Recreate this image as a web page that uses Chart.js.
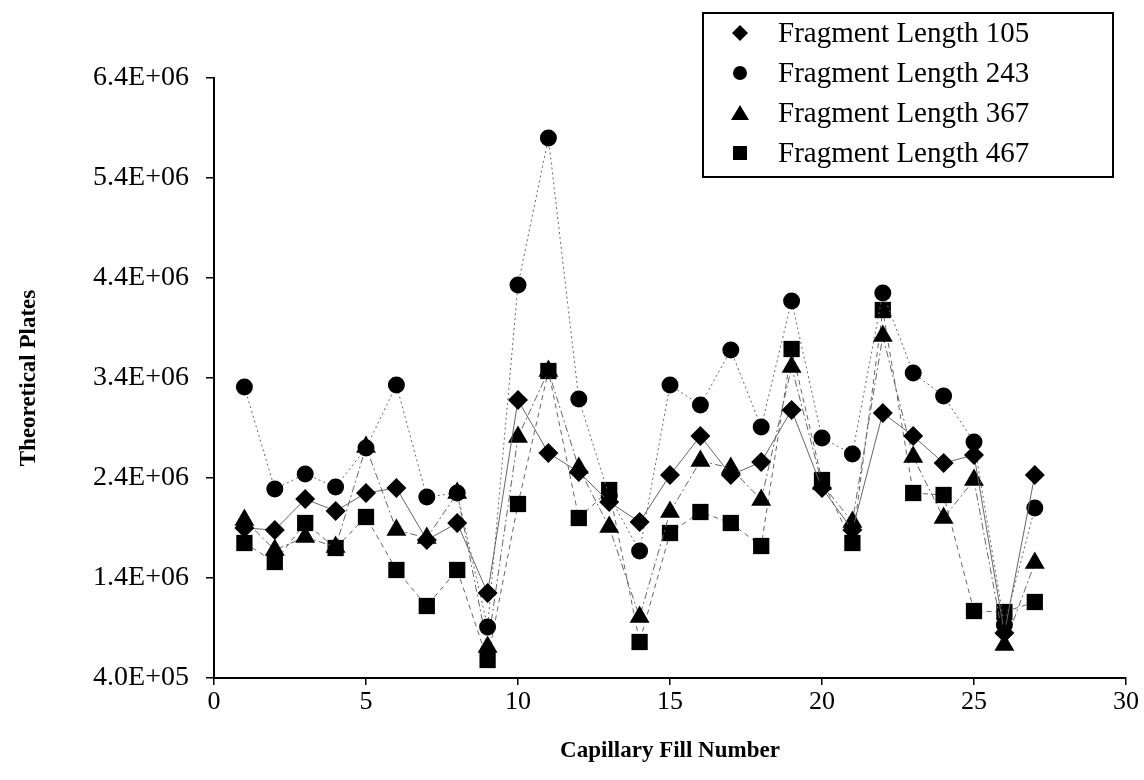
<!DOCTYPE html>
<html>
<head>
<meta charset="utf-8">
<script src="https://cdn.jsdelivr.net/npm/chart.js@4.4.1/dist/chart.umd.min.js"></script>
<style>
  body { margin: 0; background: #fff; }
  canvas { display: block; }
</style>
</head>
<body>
<canvas id="plates" width="1144" height="780"></canvas>
<script>
// Capillary fill number vs theoretical plates, four fragment lengths
const fillNumbers = [1, 2, 3, 4, 5, 6, 7, 8, 9, 10, 11, 12, 13, 14, 15, 16, 17, 18, 19, 20, 21, 22, 23, 24, 25, 26, 27];

const frag105 = [1.90e6, 1.88e6, 2.19e6, 2.07e6, 2.25e6, 2.30e6, 1.78e6, 1.95e6, 1.25e6, 3.18e6, 2.65e6, 2.46e6, 2.16e6, 1.96e6,
                 2.43e6, 2.82e6, 2.43e6, 2.56e6, 3.08e6, 2.30e6, 1.88e6, 3.05e6, 2.82e6, 2.55e6, 2.63e6, 0.85e6, 2.43e6];
const frag243 = [3.31e6, 2.29e6, 2.44e6, 2.31e6, 2.70e6, 3.33e6, 2.21e6, 2.25e6, 0.91e6, 4.33e6, 5.80e6, 3.19e6, 2.22e6, 1.67e6,
                 3.33e6, 3.13e6, 3.68e6, 2.91e6, 4.17e6, 2.80e6, 2.64e6, 4.25e6, 3.45e6, 3.22e6, 2.76e6, 0.93e6, 2.10e6];
const frag367 = [1.98e6, 1.68e6, 1.81e6, 1.71e6, 2.71e6, 1.88e6, 1.80e6, 2.25e6, 0.71e6, 2.81e6, 3.47e6, 2.50e6, 1.91e6, 1.01e6,
                 2.06e6, 2.57e6, 2.50e6, 2.18e6, 3.51e6, 2.34e6, 1.96e6, 3.82e6, 2.61e6, 2.00e6, 2.38e6, 0.73e6, 1.55e6];
const frag467 = [1.75e6, 1.56e6, 1.95e6, 1.70e6, 2.01e6, 1.48e6, 1.12e6, 1.48e6, 0.58e6, 2.14e6, 3.47e6, 2.00e6, 2.28e6, 0.76e6,
                 1.85e6, 2.06e6, 1.95e6, 1.72e6, 3.69e6, 2.38e6, 1.75e6, 4.08e6, 2.25e6, 2.23e6, 1.07e6, 1.06e6, 1.16e6];

const seriesLabels = ['Fragment Length 105', 'Fragment Length 243', 'Fragment Length 367', 'Fragment Length 467'];
const seriesValues = [frag105, frag243, frag367, frag467];
const markerStyles = ['rectRot', 'circle', 'triangle', 'rect'];
const markerSizes = [10, 8.5, 11.5, 11.5];
const lineDashes = [[], [2, 3], [7, 3, 2, 3], [5, 4]];

const serif = '"Liberation Serif", "Times New Roman", serif';

function sciLabel(v) {
    const e = Math.floor(Math.log10(v) + 1e-9);
    const m = v / Math.pow(10, e);
    return m.toFixed(1) + 'E+' + String(e).padStart(2, '0');
}

// legend with a box, drawn by hand
const boxedLegend = {
    id: 'boxedLegend',
    afterDraw(chart) {
        const c = chart.ctx;
        c.save();
        c.strokeStyle = '#000';
        c.lineWidth = 2;
        c.strokeRect(703, 13, 410, 164);
        c.fillStyle = '#000';
        c.font = '29px ' + serif;
        c.textBaseline = 'middle';
        seriesLabels.forEach((label, i) => {
            const y = 33 + i * 40;
            const x = 740;
            c.beginPath();
            if (markerStyles[i] === 'rectRot') {
                c.moveTo(x, y - 8); c.lineTo(x + 8, y); c.lineTo(x, y + 8); c.lineTo(x - 8, y);
            } else if (markerStyles[i] === 'circle') {
                c.arc(x, y, 7, 0, Math.PI * 2);
            } else if (markerStyles[i] === 'triangle') {
                c.moveTo(x, y - 8); c.lineTo(x + 9, y + 7); c.lineTo(x - 9, y + 7);
            } else {
                c.rect(x - 7, y - 7, 14, 14);
            }
            c.closePath();
            c.fill();
            c.fillText(label, 778, y + 1);
        });
        c.restore();
    }
};

const datasets = seriesLabels.map((label, i) => ({
    label: label,
    data: fillNumbers.map((x, j) => ({ x: x, y: seriesValues[i][j] })),
    showLine: true,
    borderColor: '#666',
    borderWidth: 1,
    borderDash: lineDashes[i],
    pointStyle: markerStyles[i],
    pointRadius: markerSizes[i],
    pointBackgroundColor: '#000',
    pointBorderColor: '#000',
    pointBorderWidth: 0
}));

const xTickFont = { family: serif, size: 26 };
const yTickFont = { family: serif, size: 28 };
const titleFont = { family: serif, size: 23, weight: 'bold' };

new Chart(document.getElementById('plates'), {
    type: 'scatter',
    data: { datasets: datasets },
    options: {
        responsive: false,
        animation: false,
        layout: { padding: { top: 78, right: 18, left: 0, bottom: 0 } },
        plugins: {
            legend: { display: false },
            tooltip: { enabled: false }
        },
        scales: {
            x: {
                type: 'linear',
                min: 0,
                max: 30,
                ticks: { stepSize: 5, font: xTickFont, color: '#000', padding: 2 },
                grid: { drawOnChartArea: false, tickLength: 7, color: '#000', lineWidth: 1.5 },
                border: { color: '#000', width: 2 },
                title: { display: true, text: 'Capillary Fill Number', font: titleFont, color: '#000', padding: { top: 0, bottom: 15 } },
                afterFit(scale) { scale.height = 102; }
            },
            y: {
                type: 'linear',
                min: 4e5,
                max: 6.4e6,
                ticks: { stepSize: 1e6, font: yTickFont, color: '#000', padding: 17, callback: sciLabel },
                grid: { drawOnChartArea: false, tickLength: 8, color: '#000', lineWidth: 1.5 },
                border: { color: '#000', width: 2 },
                title: { display: true, text: 'Theoretical Plates', font: titleFont, color: '#000', padding: { top: 15, bottom: 0 } },
                afterFit(scale) { scale.width = 214; }
            }
        }
    },
    plugins: [boxedLegend]
});
</script>
</body>
</html>
